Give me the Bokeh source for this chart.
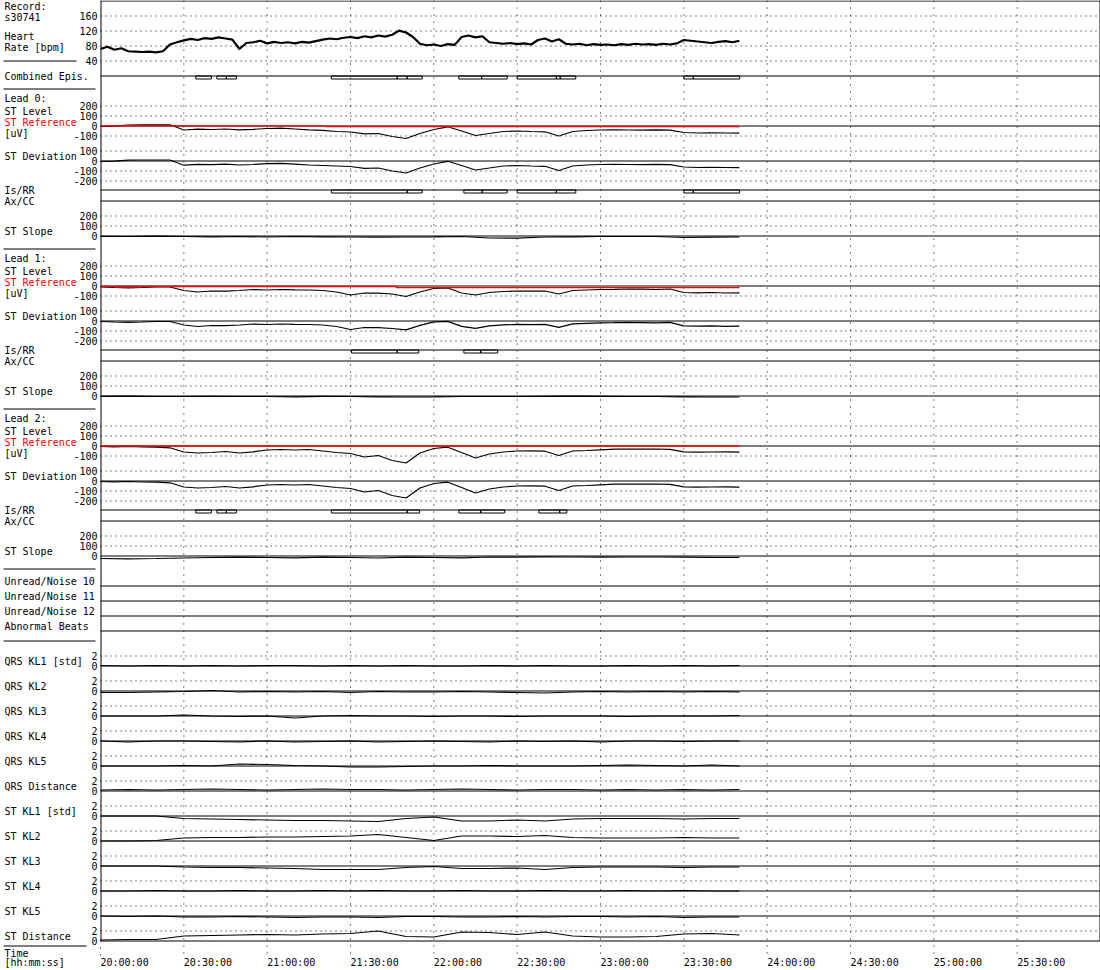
from bokeh.plotting import figure
from bokeh.models import Range1d
from bokeh.core.properties import value
from bokeh.embed import file_html
from bokeh.resources import INLINE

# ------------------------------------------------------------------ data
RECORD_ID = "s30741"

TIME_TICKS = [0, 30, 60, 90, 120, 150, 180, 210, 240, 270, 300, 330]   # minutes after 20:00
TIME_LABELS = ["20:00:00", "20:30:00", "21:00:00", "21:30:00", "22:00:00", "22:30:00",
               "23:00:00", "23:30:00", "24:00:00", "24:30:00", "25:00:00", "25:30:00"]

# heart rate, one value every 2.5 min
HR_T = [i * 2.5 for i in range(93)]
HR_BPM = [72, 78, 70, 74, 66, 65, 64, 65, 63, 66, 84, 90,
          95, 99, 96, 101, 99, 103, 100, 97, 72, 88, 90, 94,
          87, 91, 88, 90, 87, 91, 89, 93, 97, 100, 98, 102,
          104, 101, 106, 103, 108, 105, 110, 121, 116, 104, 86, 82,
          84, 80, 85, 83, 104, 108, 103, 106, 90, 88, 86, 88,
          85, 87, 84, 96, 100, 92, 98, 86, 84, 86, 82, 85,
          83, 84, 82, 85, 83, 86, 84, 85, 83, 86, 84, 87,
          96, 94, 92, 90, 88, 91, 93, 90, 94]

# ST level (uV), one value every 5 min
T5 = [0, 5, 10, 15, 20, 25, 30, 35, 40, 45, 50, 55, 60, 65, 70, 75, 80, 85, 90, 95,
      100, 105, 110, 115, 120, 125, 130, 135, 140, 145, 150, 155, 160, 165, 170, 175,
      180, 185, 190, 195, 200, 205, 210, 215, 220, 225, 230]
L0_LEVEL = [-3, 0, 10, 12, 12, 12,
            -40, -32, -35, -30, -38, -33,
            -25, -22, -30, -38, -43, -55,
            -60, -78, -75, -105, -125, -75,
            -35, -8, -50, -95, -75, -55,
            -50, -55, -58, -100, -55, -45,
            -40, -38, -40, -42, -38, -42,
            -65, -70, -68, -70, -72]
L1_LEVEL = [-10, -15, -18, -15, -10, -10,
            -45, -60, -50, -52, -45, -35,
            -40, -35, -38, -40, -45, -60,
            -90, -70, -72, -80, -105, -60,
            -25, -20, -70, -90, -65, -55,
            -50, -52, -50, -80, -45, -40,
            -35, -33, -30, -32, -35, -30,
            -65, -68, -65, -70, -68]
L2_LEVEL = [-5, -8, -5, -10, -12, -18,
            -60, -70, -65, -55, -70, -58,
            -40, -35, -40, -35, -50, -65,
            -75, -110, -95, -145, -170, -70,
            -25, -12, -65, -120, -80, -60,
            -50, -48, -52, -95, -50, -45,
            -38, -32, -30, -32, -30, -33,
            -58, -62, -60, -58, -62]

# ST reference (uV), step changes
L0_REF_T = [0, 81, 81, 230]
L0_REF = [2, 2, -5, -5]
L1_REF_T = [0, 106.5, 106.5, 230]
L1_REF = [-5, -5, -16, -16]
L2_REF_T = [0, 230]
L2_REF = [0, 0]

# ST slope, one value every 10 min
T10 = [0, 10, 20, 30, 40, 50, 60, 70, 80, 90, 100, 110, 120, 130, 140, 150, 160, 170,
       180, 190, 200, 210, 220, 230]
L0_SLOPE = [-3, -5, -2, -5, -8, -5, -10, -5, -8, -10, -12, -10, -8, -5, -20, -22, -10, -8,
            -5, -5, -5, -15, -12, -10]
L1_SLOPE = [-3, -2, -5, -5, -3, -5, -5, -8, -3, -5, -8, -10, -8, -5, -5, -5, -3, -2,
            -3, -5, -5, -8, -10, -10]
L2_SLOPE = [-25, -28, -25, -20, -15, -12, -15, -18, -12, -15, -20, -12, -15, -18, -10, -12,
            -8, -10, -12, -10, -10, -12, -15, -15]

# ischemic episodes (start / end, minutes)
COMB_START = [34.3, 41.9, 45.3, 83.1, 106.8, 110.4, 129.0, 137.2, 150.0, 164.1, 165.5, 210.0, 213.4]
COMB_END = [39.9, 45.3, 48.9, 106.8, 110.4, 115.8, 137.2, 146.4, 164.1, 165.5, 171.1, 213.4, 230.1]
L0_EP_START = [83.1, 110.4, 130.8, 137.4, 150.0, 164.1, 210.0, 213.4]
L0_EP_END = [110.4, 115.8, 137.4, 146.4, 164.1, 171.1, 213.4, 230.1]
L1_EP_START = [90.4, 106.8, 130.8, 136.9]
L1_EP_END = [106.8, 114.6, 136.9, 143.0]
L2_EP_START = [34.3, 41.9, 45.3, 83.1, 110.4, 129.0, 136.9, 157.8, 165.3]
L2_EP_END = [39.9, 45.3, 48.9, 110.4, 114.9, 136.9, 145.5, 165.3, 167.9]

# Karhunen-Loeve coefficients (std), one value every 10 min
QRS_KL1 = [0.1, 0, 0.1, 0, 0.1, 0, 0.1, 0.1, 0, 0.1, 0, 0.1, 0, 0, 0.1, 0, 0.1, 0, 0, 0.1, 0, 0.1, 0, 0.1]
QRS_KL2 = [-0.3, -0.3, -0.2, -0.1, 0.1, -0.2, -0.1, -0.2, -0.1, -0.3, -0.1, -0.2, -0.2, -0.1, -0.2,
           -0.3, -0.4, -0.2, -0.1, -0.2, -0.1, -0.2, -0.1, -0.2]
QRS_KL3 = [0, 0, 0, 0.2, 0, -0.1, 0, -0.4, 0, 0.1, 0, 0, -0.1, 0, 0, -0.1, 0, 0, 0, -0.1, 0, 0, 0, 0.1]
QRS_KL4 = [0, -0.2, 0, 0, -0.1, -0.2, 0, -0.2, -0.1, 0, -0.2, -0.1, 0, -0.1, -0.2, 0, -0.1, 0, -0.2,
           0, 0, -0.1, 0, 0]
QRS_KL5 = [0, 0, 0, 0.1, 0, 0.4, 0.3, 0.1, 0, -0.2, -0.2, -0.1, 0, 0, 0.1, 0, 0, 0, 0.1, 0.2, 0.1,
           0, 0.2, 0]
QRS_DIST = [0.2, 0.3, 0.2, 0.3, 0.4, 0.3, 0.2, 0.3, 0.4, 0.3, 0.3, 0.2, 0.3, 0.4, 0.3, 0.2, 0.3,
            0.3, 0.2, 0.3, 0.2, 0.3, 0.2, 0.3]
ST_KL1 = [0, 0, 0, -0.5, -0.6, -0.7, -0.8, -0.9, -0.9, -1.0, -1.1, -0.5, -0.2, -1.0, -1.0, -0.8,
          -1.0, -0.6, -0.5, -0.5, -0.5, -0.6, -0.5, -0.5]
ST_KL2 = [0, 0, 0.1, 0.6, 0.7, 0.7, 0.8, 0.8, 0.9, 1.0, 1.3, 0.7, 0.1, 1.0, 1.0, 0.9, 1.1, 0.7,
          0.6, 0.6, 0.6, 0.7, 0.6, 0.6]
ST_KL3 = [0, 0, 0, -0.2, -0.3, -0.3, -0.4, -0.5, -0.7, -0.7, -0.7, -0.3, -0.1, -0.5, -0.5, -0.4,
          -0.7, -0.3, -0.2, -0.2, -0.2, -0.3, -0.2, -0.2]
ST_KL4 = [0, 0, 0.1, 0, 0, 0.1, 0, 0, 0.1, 0, 0.1, 0, 0, 0.1, 0, 0, 0.1, 0, 0, 0.1, 0, 0.1, 0, 0]
ST_KL5 = [0, -0.1, 0, -0.2, -0.2, -0.1, -0.2, -0.3, -0.2, -0.2, -0.3, -0.1, -0.1, -0.2, -0.2, -0.1,
          -0.2, -0.1, -0.1, -0.2, -0.1, -0.3, -0.2, -0.2]
ST_DIST = [0.2, 0.3, 0.3, 1.0, 1.1, 1.2, 1.3, 1.2, 1.4, 1.5, 2.0, 0.9, 0.8, 1.8, 1.7, 1.3, 1.8,
           1.0, 0.8, 0.8, 0.9, 1.4, 1.5, 1.2]

KL_NAMES = ["QRS KL1 [std]", "QRS KL2", "QRS KL3", "QRS KL4", "QRS KL5", "QRS Distance",
            "ST KL1 [std]", "ST KL2", "ST KL3", "ST KL4", "ST KL5", "ST Distance"]
KL_SERIES = [QRS_KL1, QRS_KL2, QRS_KL3, QRS_KL4, QRS_KL5, QRS_DIST,
             ST_KL1, ST_KL2, ST_KL3, ST_KL4, ST_KL5, ST_DIST]

HR_TICKS = [160, 120, 80, 40]
LEVEL_TICKS = [200, 100, 0, -100]
DEV_TICKS = [100, 0, -100, -200]
SLOPE_TICKS = [200, 100, 0]
KL_TICKS = [2, 0]
NOISE_NAMES = ["Unread/Noise 10", "Unread/Noise 11", "Unread/Noise 12", "Abnormal Beats"]

# ------------------------------------------------------------------ layout
W, H = 1100, 970
PL, PR = 100, 1099.5          # plot area left / right (px)
TICK_X = 97
LABEL_X = 4
HR_ZERO, HR_PPU = 75.5, 0.375
LEAD_Z = [125.5, 285.5, 445.5]
UV_PPU = 0.1
DEV_OFF, ISRR_OFF, AXCC_OFF, SLOPE_OFF = 35, 64, 75, 110
NOISE_LINES = [585.5, 600.5, 615.5, 630.5]
KL_ZERO = [665.5 + 25 * j for j in range(12)]
KL_PPU = 5
FONT = value("DejaVu Sans Mono")
FS = "10px"

ranges = {}


def add_range(name, zero_px, ppu):
    ranges[name] = Range1d(start=(zero_px - H) / ppu, end=zero_px / ppu)


add_range("hr", HR_ZERO, HR_PPU)
for k, z in enumerate(LEAD_Z):
    add_range(f"lev{k}", z, UV_PPU)
    add_range(f"dev{k}", z + DEV_OFF, UV_PPU)
    add_range(f"slope{k}", z + SLOPE_OFF, UV_PPU)
for j, z in enumerate(KL_ZERO):
    add_range(f"kl{j}", z, KL_PPU)

p = figure(width=W, height=H, x_range=Range1d(0, W), y_range=Range1d(H, 0),
           x_axis_type=None, y_axis_type=None, toolbar_location=None,
           output_backend="svg", min_border=0, outline_line_color=None,
           background_fill_color="white", border_fill_color="white")
p.extra_x_ranges = {"t": Range1d(-36, 360)}
p.extra_y_ranges = ranges


def texts(xs, ys, labels, align="left", color="black", xr="default", yr="default"):
    p.text(x=xs, y=ys, text=labels, x_range_name=xr, y_range_name=yr,
           text_font=FONT, text_font_size=FS, text_align=align,
           text_baseline="middle", text_color=color)


def dotted(yr, vals):
    n = len(vals)
    p.segment(x0=[PL] * n, x1=[PR] * n, y0=vals, y1=vals, y_range_name=yr,
              line_color="black", line_width=1, line_dash="1 4")


def solid(yr, vals):
    n = len(vals)
    p.segment(x0=[PL] * n, x1=[PR] * n, y0=vals, y1=vals, y_range_name=yr,
              line_color="black", line_width=1)


def tick_labels(yr, vals):
    texts([TICK_X] * len(vals), vals, [str(v) for v in vals], align="right", yr=yr)


def ref_at(t, ts, vs):
    out = vs[0]
    for ti, vi in zip(ts, vs):
        if ti <= t:
            out = vi
    return out


# vertical time grid
p.segment(x0=TIME_TICKS[1:], x1=TIME_TICKS[1:], y0=[0] * 11, y1=[957] * 11,
          x_range_name="t", line_color="black", line_width=1, line_dash="1 6")
p.segment(x0=[0], x1=[0], y0=[940], y1=[957], x_range_name="t",
          line_color="black", line_width=1, line_dash="1 6")

# horizontal dotted grid
dotted("hr", HR_TICKS)
for k in range(3):
    dotted(f"lev{k}", [v for v in LEVEL_TICKS if v != 0])
    dotted(f"dev{k}", [v for v in DEV_TICKS if v != 0])
    dotted(f"slope{k}", [v for v in SLOPE_TICKS if v != 0])
for j in range(12):
    dotted(f"kl{j}", [2])

# plot frame and solid row lines
layout_lines = [0.5, HR_ZERO] + NOISE_LINES
for z in LEAD_Z:
    layout_lines += [z + ISRR_OFF, z + AXCC_OFF]
p.segment(x0=[PL] * len(layout_lines), x1=[W] * len(layout_lines),
          y0=layout_lines, y1=layout_lines, line_color="black", line_width=1)
for k in range(3):
    solid(f"lev{k}", [0])
    solid(f"dev{k}", [0])
    solid(f"slope{k}", [0])
for j in range(12):
    solid(f"kl{j}", [0])
p.segment(x0=[100.5, PR], x1=[100.5, PR], y0=[0, 0], y1=[940.5, 940.5],
          line_color="black", line_width=1)

# left-column separators
SEP_Y = [60.5, 88.5, 248.5, 408.5, 568.5, 640.5, 945.5]
SEP_X1 = [76, 95, 95, 95, 95, 95, 86]
p.segment(x0=[3] * len(SEP_Y), x1=SEP_X1, y0=SEP_Y, y1=SEP_Y, line_color="black", line_width=1)

# heart rate
p.line(HR_T, HR_BPM, x_range_name="t", y_range_name="hr", line_color="black",
       line_width=2.2, line_join="bevel")
tick_labels("hr", HR_TICKS)


# episodes
def episodes(starts, ends, line_y):
    n = len(starts)
    p.quad(left=starts, right=ends, top=[line_y] * n, bottom=[line_y + 3] * n,
           x_range_name="t", fill_color=None, line_color="black", line_width=1)


episodes(COMB_START, COMB_END, HR_ZERO)

LEVELS = [L0_LEVEL, L1_LEVEL, L2_LEVEL]
REFS = [(L0_REF_T, L0_REF), (L1_REF_T, L1_REF), (L2_REF_T, L2_REF)]
SLOPES = [L0_SLOPE, L1_SLOPE, L2_SLOPE]
EPS = [(L0_EP_START, L0_EP_END), (L1_EP_START, L1_EP_END), (L2_EP_START, L2_EP_END)]

for k in range(3):
    lev = LEVELS[k]
    rt, rv = REFS[k]
    dev = [lv - ref_at(t, rt, rv) for t, lv in zip(T5, lev)]   # deviation = level - reference
    p.line(T5, lev, x_range_name="t", y_range_name=f"lev{k}", line_color="black", line_width=1.2)
    p.line(rt, rv, x_range_name="t", y_range_name=f"lev{k}", line_color="#ff0000", line_width=1.3)
    p.line(T5, dev, x_range_name="t", y_range_name=f"dev{k}", line_color="black", line_width=1.2)
    p.line(T10, SLOPES[k], x_range_name="t", y_range_name=f"slope{k}", line_color="black",
           line_width=1.2)
    episodes(EPS[k][0], EPS[k][1], LEAD_Z[k] + ISRR_OFF)
    tick_labels(f"lev{k}", LEVEL_TICKS)
    tick_labels(f"dev{k}", DEV_TICKS)
    tick_labels(f"slope{k}", SLOPE_TICKS)
    z = LEAD_Z[k]
    texts([LABEL_X] * 7,
          [z - 27.5, z - 15, z + 7, z + 30.5, z + 64.5, z + 75.5, z + 105],
          [f"Lead {k}:", "ST Level", "[uV]", "ST Deviation", "Is/RR", "Ax/CC", "ST Slope"])
    texts([LABEL_X], [z - 3.5], ["ST Reference"], color="#ff0000")

for j in range(12):
    p.line(T10, KL_SERIES[j], x_range_name="t", y_range_name=f"kl{j}", line_color="black",
           line_width=1.2)
    tick_labels(f"kl{j}", KL_TICKS)
texts([LABEL_X] * 12, [z - 5 for z in KL_ZERO], KL_NAMES)

# other left labels
texts([LABEL_X] * 5, [6, 16.5, 35.5, 46.5, 76], ["Record:", RECORD_ID, "Heart", "Rate [bpm]",
                                               "Combined Epis."])
texts([LABEL_X] * 4, [580.5, 595.5, 610.5, 626], NOISE_NAMES)
texts([LABEL_X] * 2, [953, 961.5], ["Time", "[hh:mm:ss]"])

# time tick labels
texts(TIME_TICKS, [961.5] * len(TIME_TICKS), TIME_LABELS, xr="t")

html = file_html(p, INLINE, title="ST analysis " + RECORD_ID)
html = html.replace("<head>", "<head><style>html,body{margin:0;padding:0;overflow:hidden;}</style>", 1)
open("out.html", "w").write(html)
